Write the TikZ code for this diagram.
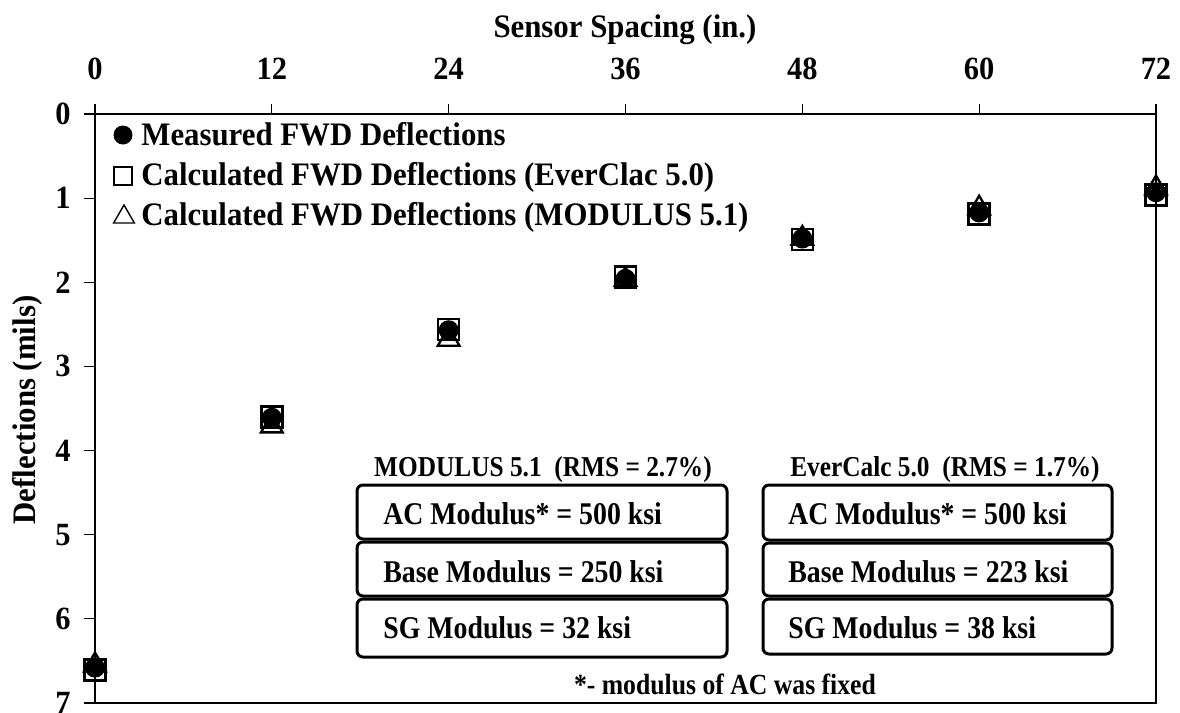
\documentclass[tikz,border=0pt]{standalone}
\usepackage{fontspec}
\setmainfont{Liberation Serif}
\newfontfamily\legfont[FakeStretch=0.94]{Liberation Serif}
\newfontfamily\boxfont[FakeStretch=0.88]{Liberation Serif}
\usetikzlibrary{shapes.geometric}
\begin{document}
\begin{tikzpicture}[x=0.5pt,y=-0.5pt,
  axislab/.style={font=\legfont\fontsize{16.4pt}{19pt}\selectfont\bfseries, inner sep=0pt},
  ticklab/.style={font=\legfont\fontsize{16.2pt}{19pt}\selectfont\bfseries, inner sep=0pt},
  legtext/.style={font=\legfont\fontsize{16.4pt}{19pt}\selectfont\bfseries, inner sep=0pt, anchor=base west},
  hdr/.style={font=\boxfont\fontsize{14.4pt}{17pt}\selectfont\bfseries, inner sep=0pt, anchor=base},
  rowtext/.style={font=\boxfont\fontsize{15.8pt}{18pt}\selectfont\bfseries, inner sep=0pt, anchor=base west},
  modbox/.style={draw, line width=1.5pt, rounded corners=3pt},
  circmark/.style={circle, fill=black, inner sep=0pt, minimum size=10pt},
  sqmark/.style={rectangle, draw, line width=1.3pt, inner sep=0pt, minimum size=10.5pt},
  trimark/.style={regular polygon, regular polygon sides=3, draw, line width=1.2pt, inner sep=0pt, minimum size=12.5pt},
  tickline/.style={line width=0.6pt},
]
\useasboundingbox (0,0) rectangle (1180,713);

% axis titles
\node[axislab, anchor=base] (xtitle) at (625,37) {Sensor Spacing (in.)};
\node[axislab, rotate=90] (ytitle) at (27,410) {Deflections (mils)};

% frame
\draw[line width=1pt] (95,114) rectangle (1156,703);

% x ticks and labels
\foreach \v in {0,12,...,72} {
  \draw[tickline] ({95+\v*14.736},114) -- ++(0,-10);
  \node[ticklab, anchor=base] (xl\v) at ({95+\v*14.736},79) {\v};
}
% y ticks and labels
\foreach \d in {0,...,7} {
  \draw[tickline] (95,{114+\d*84.14}) -- ++(-11,0);
  \node[ticklab, anchor=east] (yl\d) at (71,{114+\d*84.14}) {\d};
}

% legend
\node[circmark, minimum size=9.5pt] (lgc) at (123,135) {};
\node[legtext] (lgct) at (141,145) {Measured FWD Deflections};
\node[sqmark, minimum size=9pt, line width=0.7pt] (lgs) at (123,176) {};
\node[legtext] (lgst) at (141,185) {Calculated FWD Deflections (EverClac 5.0)};
\node[trimark, minimum size=12pt, line width=0.7pt] (lgt) at (124,217) {};
\node[legtext] (lgtt) at (141,225) {Calculated FWD Deflections (MODULUS 5.1)};

% data
\begin{scope}[shift={(95,114)}, x=7.368pt, y=-42.07pt]
\foreach \v/\m/\e/\t [count=\i] in {0/6.58/6.61/6.55, 12/3.61/3.6/3.71, 24/2.57/2.56/2.68, 36/1.96/1.94/1.97, 48/1.48/1.49/1.48, 60/1.17/1.19/1.12, 72/0.93/0.96/0.88} {
  \node[circmark] (m\i) at (\v,\m) {};
  \node[sqmark] (e\i) at (\v,\e) {};
  \node[trimark] (t\i) at (\v,\t) {};
}
\end{scope}

% MODULUS boxes
\node[hdr] (h1) at (543,476) {MODULUS 5.1\ \ (RMS = 2.7\%)};
\draw[modbox] (357,485) rectangle (727,539);
\draw[modbox] (357,542) rectangle (727,596);
\draw[modbox] (357,599) rectangle (727,657);
\node[rowtext] (a1) at (383,524) {AC Modulus* = 500 ksi};
\node[rowtext] (b1) at (383,582) {Base Modulus = 250 ksi};
\node[rowtext] (s1) at (383,638) {SG Modulus = 32 ksi};

% EverCalc boxes
\node[hdr] (h2) at (945,476) {EverCalc 5.0\ \ (RMS = 1.7\%)};
\draw[modbox] (763,485) rectangle (1112,540);
\draw[modbox] (763,543) rectangle (1112,596);
\draw[modbox] (763,599) rectangle (1112,654);
\node[rowtext] (a2) at (788,524) {AC Modulus* = 500 ksi};
\node[rowtext] (b2) at (788,582) {Base Modulus = 223 ksi};
\node[rowtext] (s2) at (788,638) {SG Modulus = 38 ksi};

% footnote
\node[hdr, font=\boxfont\fontsize{14.6pt}{17pt}\selectfont\bfseries] (fn) at (725,694) {*- modulus of AC was fixed};
\end{tikzpicture}
\end{document}
